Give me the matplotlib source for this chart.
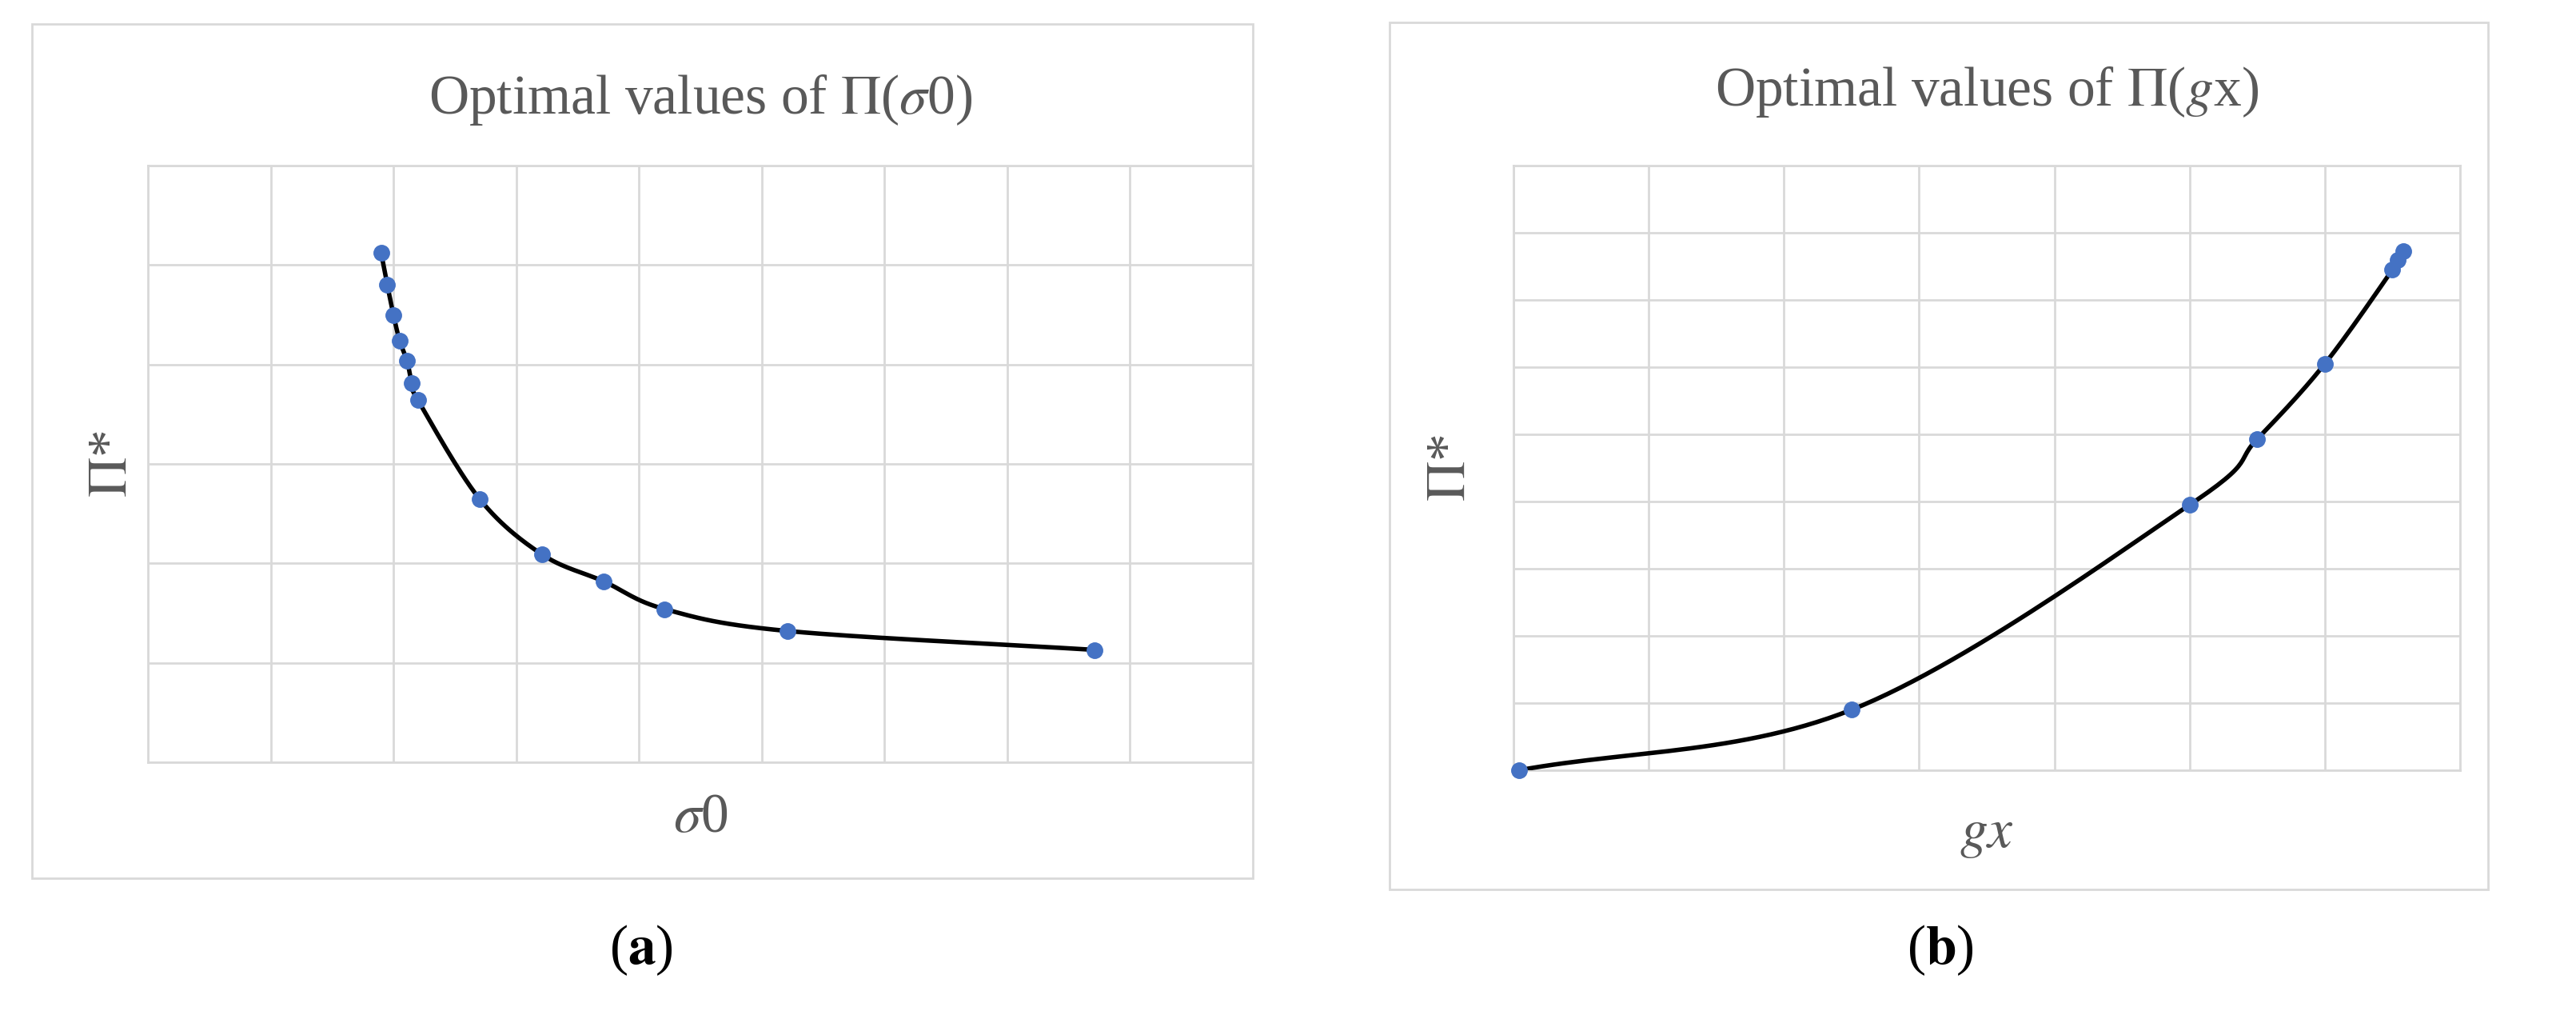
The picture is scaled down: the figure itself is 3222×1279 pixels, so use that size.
import numpy as np
import matplotlib.pyplot as plt
from matplotlib.patches import Rectangle

plt.rcParams['font.family'] = ['Liberation Serif', 'DejaVu Serif']
plt.rcParams['mathtext.fontset'] = 'stix'

sigma0 = [1.90, 1.95, 2.00, 2.05, 2.11, 2.15, 2.20, 2.70, 3.21, 3.71, 4.21, 5.21, 7.71]
pi_sigma = [5.12, 4.80, 4.50, 4.24, 4.04, 3.81, 3.64, 2.65, 2.09, 1.82, 1.54, 1.32, 1.13]

gx = [0.04, 2.50, 5.00, 5.50, 6.00, 6.50, 6.54, 6.58]
pi_gx = [0.00, 0.90, 3.95, 4.93, 6.05, 7.45, 7.60, 7.73]

GREY = '#595959'
BLUE = '#4472C4'
W, H = 3222, 1279


def smooth(x, y, n=30):
    # catmull-rom through the points, for the smoothed excel line
    p = np.column_stack([x, y])
    p = np.vstack([2 * p[0] - p[1], p, 2 * p[-1] - p[-2]])
    out = []
    t = np.linspace(0, 1, n)[:, None]
    for i in range(1, len(p) - 2):
        p0, p1, p2, p3 = p[i - 1], p[i], p[i + 1], p[i + 2]
        c = 0.5 * ((2 * p1) + (-p0 + p2) * t + (2 * p0 - 5 * p1 + 4 * p2 - p3) * t ** 2
                   + (-p0 + 3 * p1 - 3 * p2 + p3) * t ** 3)
        out.append(c)
    c = np.vstack(out)
    return c[:, 0], c[:, 1]


def fr(x0, y0, x1, y1):
    return [x0 / W, 1 - y1 / H, (x1 - x0) / W, (y1 - y0) / H]


fig = plt.figure(figsize=(W / 100, H / 100), dpi=100)

for frame in [(40, 30, 1567, 1098), (1738, 28, 3112, 1112)]:
    x0, y0, x1, y1 = frame
    fig.patches.append(Rectangle((x0 / W, 1 - y1 / H), (x1 - x0) / W, (y1 - y0) / H,
                                 transform=fig.transFigure, fill=False,
                                 edgecolor='#d9d9d9', linewidth=2))


def panel(box, x, y, xlim, ylim, title, xlabel, tag, title_y, xlab_y, ylab_x, tag_x):
    ax = fig.add_axes(fr(*box))
    sx, sy = smooth(x, y)
    ax.plot(sx, sy, color='black', linewidth=4, zorder=3)
    ax.plot(x, y, 'o', color=BLUE, markersize=14, zorder=4, clip_on=False)
    ax.set_xlim(*xlim)
    ax.set_ylim(*ylim)
    ax.set_xticks(np.arange(xlim[0], xlim[1] + 1))
    ax.set_yticks(np.arange(ylim[0], ylim[1] + 1))
    ax.tick_params(length=0, labelbottom=False, labelleft=False)
    ax.grid(True, color='#d9d9d9', linewidth=2)
    for s in ax.spines.values():
        s.set_color('#d9d9d9')
        s.set_linewidth(2)
    cx = (box[0] + box[2]) / 2
    fig.text(cx / W, 1 - title_y / H, title, ha='center', va='center', fontsize=50, color=GREY)
    fig.text(cx / W, 1 - xlab_y / H, xlabel, ha='center', va='center', fontsize=50, color=GREY)
    fig.text(ylab_x / W, 1 - ((box[1] + box[3]) / 2) / H, r'$\Pi$*', ha='center', va='center',
             fontsize=50, color=GREY, rotation=90)
    fig.text(tag_x / W, 1 - 1188 / H, tag, ha='center', va='center', fontsize=50, color='black')
    return ax


panel((185, 207, 1567, 953), sigma0, pi_sigma, (0, 9), (0, 6),
      r'Optimal values of $\Pi$($\sigma$0)', r'$\sigma$0', r'($\mathbf{a}$)', 125, 1023, 141, 802)
panel((1893, 207, 3077, 963), gx, pi_gx, (0, 7), (0, 9),
      r'Optimal values of $\Pi$($g$x)', r'$gx$', r'($\mathbf{b}$)', 115, 1043, 1815, 2427)

fig.savefig('out.png', dpi=100)
